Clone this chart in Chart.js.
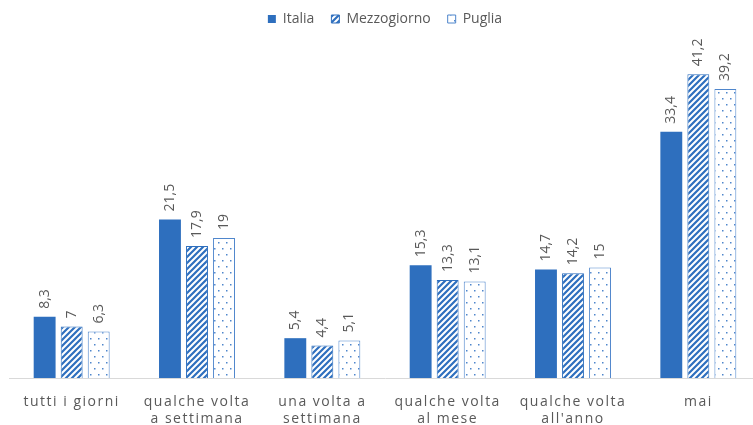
<!DOCTYPE html>
<html>
<head>
<meta charset="utf-8">
<script src="https://cdn.jsdelivr.net/npm/chart.js@4"></script>
<style>
  html, body { margin: 0; padding: 0; background: #ffffff; overflow: hidden; }
  #wrap { width: 753px; height: 425px; overflow: hidden; position: relative; }
  #wrap canvas { position: absolute; left: 0; top: 0; }
</style>
</head>
<body>
<div id="wrap"><canvas id="chart" width="770" height="425"></canvas></div>
<script>
// category labels (multi-line as in the original)
const categories = [
  ["tutti i giorni"],
  ["qualche volta", "a settimana"],
  ["una volta a", "settimana"],
  ["qualche volta", "al mese"],
  ["qualche volta", "all'anno"],
  ["mai"]
];

const seriesNames = ["Italia", "Mezzogiorno", "Puglia"];
const italia = [8.3, 21.5, 5.4, 15.3, 14.7, 33.4];
const mezzogiorno = [7, 17.9, 4.4, 13.3, 14.2, 41.2];
const puglia = [6.3, 19, 5.1, 13.1, 15, 39.2];

const BLUE = "#2E6FBE";
const LIGHT_BLUE = "#4F86CC";
const GREY = "#595959";

// diagonal hatch "/" pattern
function makeHatch() {
  const c = document.createElement("canvas");
  c.width = 6; c.height = 6;
  const g = c.getContext("2d");
  g.fillStyle = "#ffffff";
  g.fillRect(0, 0, 6, 6);
  g.strokeStyle = BLUE;
  g.lineWidth = 2.2;
  g.beginPath();
  g.moveTo(-1, 7); g.lineTo(7, -1);
  g.moveTo(-4, 4); g.lineTo(4, -4);
  g.moveTo(2, 10); g.lineTo(10, 2);
  g.stroke();
  return g.createPattern(c, "repeat");
}

// sparse staggered dots pattern
function makeDots() {
  const c = document.createElement("canvas");
  c.width = 8; c.height = 12;
  const g = c.getContext("2d");
  g.fillStyle = "#ffffff";
  g.fillRect(0, 0, 8, 12);
  g.fillStyle = LIGHT_BLUE;
  g.fillRect(2, 2, 1.5, 1.5);
  g.fillRect(6, 8, 1.5, 1.5);
  return g.createPattern(c, "repeat");
}

function fmt(v) {
  return String(v).replace(".", ",");
}

// the category labels in the reference are letter-spaced,
// so wrap the x scale's label drawing only
const spacing = {
  id: "spacing",
  afterLayout(chart) {
    const xs = chart.scales.x;
    if (xs && !xs._spaced) {
      const orig = xs.drawLabels;
      xs.drawLabels = function (area) {
        const c = this.ctx;
        const prev = c.letterSpacing;
        c.letterSpacing = "1.5px";
        orig.call(this, area);
        c.letterSpacing = prev;
      };
      xs._spaced = true;
    }
    // pull the legend up a bit (its padding also spaces the items)
    if (chart.legend) {
      chart.legend.top -= 5;
      chart.legend.bottom -= 5;
    }
  }
};

// rotated value labels above each bar
const valueLabels = {
  id: "valueLabels",
  afterDatasetsDraw(chart) {
    const ctx = chart.ctx;
    ctx.save();
    ctx.font = "14px 'Open Sans'";
    ctx.fillStyle = GREY;
    ctx.textAlign = "left";
    ctx.textBaseline = "middle";
    chart.data.datasets.forEach((ds, i) => {
      chart.getDatasetMeta(i).data.forEach((bar, j) => {
        ctx.save();
        ctx.translate(bar.x, bar.y - 8);
        ctx.rotate(-Math.PI / 2);
        ctx.fillText(fmt(ds.data[j]), 0, 0);
        ctx.restore();
      });
    });
    ctx.restore();
  }
};

new Chart(document.getElementById("chart"), {
  type: "bar",
  data: {
    labels: categories,
    datasets: [
      {
        label: seriesNames[0],
        data: italia,
        backgroundColor: BLUE,
        borderWidth: 0
      },
      {
        label: seriesNames[1],
        data: mezzogiorno,
        backgroundColor: makeHatch(),
        borderColor: BLUE,
        borderWidth: 1
      },
      {
        label: seriesNames[2],
        data: puglia,
        backgroundColor: makeDots(),
        borderColor: LIGHT_BLUE,
        borderWidth: 1
      }
    ]
  },
  options: {
    responsive: false,
    animation: false,
    layout: { padding: { left: 9, right: 9, top: 0, bottom: 0 } },
    datasets: {
      bar: { categoryPercentage: 0.647, barPercentage: 0.81 }
    },
    plugins: {
      tooltip: { enabled: false },
      legend: {
        position: "top",
        labels: {
          color: GREY,
          boxWidth: 8,
          boxHeight: 8,
          padding: 17,
          font: { family: "'Open Sans'", size: 14 }
        }
      }
    },
    scales: {
      x: {
        grid: { display: false, drawTicks: false },
        border: { display: true, color: "#d9d9d9", width: 1 },
        ticks: {
          color: GREY,
          padding: 15,
          maxRotation: 0,
          autoSkip: false,
          font: { family: "'Open Sans'", size: 14, lineHeight: 1.25 }
        },
        afterFit(scale) { scale.height = 47; }
      },
      y: {
        display: false,
        min: 0,
        max: 45.7
      }
    }
  },
  plugins: [spacing, valueLabels]
});
</script>
</body>
</html>
